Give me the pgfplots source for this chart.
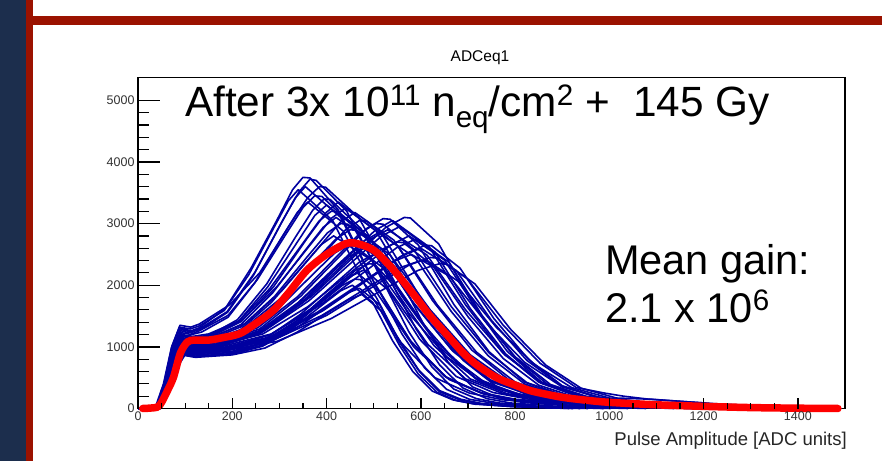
\documentclass[border=0pt]{standalone}
\usepackage{fontspec}
\setmainfont{Liberation Sans}
\usepackage{pgfplots}
\pgfplotsset{compat=1.18}

\definecolor{slidenavy}{HTML}{1C2E4D}
\definecolor{slidered}{HTML}{9B1200}
\definecolor{rootblue}{RGB}{0,0,160}
\definecolor{meanred}{RGB}{255,0,0}

\pgfplotsset{
  rootframe/.style={
    at={(138bp,52.5bp)}, anchor=south west, scale only axis,
    width=707bp, height=331bp,
    xmin=0, xmax=1500, ymin=0, ymax=5370,
    tick align=inside, clip=false,
    scaled ticks=false,
    /pgf/number format/assume math mode=true,
    /pgf/number format/1000 sep={},
    ticklabel style={font=\fontsize{12.5bp}{15bp}\selectfont, text=black!80},
    major tick style={line width=1.4bp, black},
    minor tick style={line width=1.2bp, black},
  },
  blu/.style={draw=rootblue, line width=1.6bp, line join=round},
}

\newcommand\up[2]{\raisebox{#1}{\fontsize{29.6bp}{30bp}\selectfont #2}}

\begin{document}
\begin{tikzpicture}
\useasboundingbox (0,0) rectangle (882bp,461bp);
\fill[white] (0,0) rectangle (882bp,461bp);
\fill[slidenavy] (0,0) rectangle (26bp,461bp);
\fill[slidered] (26bp,0) rectangle (33bp,461bp);
\fill[slidered] (33bp,436bp) rectangle (882bp,445bp);

\begin{axis}[rootframe,
  xtick=\empty, ytick={0,1000,...,5000}, minor y tick num=4, ytick pos=left,
  major tick length=22bp, minor tick length=11bp,
  axis line style={line width=1.6bp}]
% group A: early, high peaks
\addplot[blu] coordinates {(0,0)(38,0)(56,390)(73,975)(90,1300)(113,1260)(130,1310)(185,1620)(240,2280)(295,3060)(328,3550)(350,3750)(365,3740)(425,3220)(500,2060)(575,1120)(650,525)(725,260)(800,150)(950,60)(1175,0)};
\addplot[blu] coordinates {(0,0)(40,0)(58,380)(75,960)(92,1280)(115,1240)(130,1290)(189,1570)(248,2210)(306,3040)(342,3520)(365,3720)(378,3700)(443,3200)(520,2050)(598,1120)(675,520)(753,260)(830,150)(985,60)(1218,0)};
\addplot[blu] coordinates {(0,0)(36,0)(54,400)(71,990)(88,1320)(111,1290)(130,1340)(183,1590)(235,2170)(288,2930)(319,3370)(340,3550)(413,3050)(485,1950)(558,1070)(630,500)(703,250)(775,140)(920,50)(1138,0)};
\addplot[blu] coordinates {(0,0)(42,0)(60,380)(77,940)(94,1250)(117,1220)(130,1260)(191,1510)(253,2090)(314,2830)(351,3270)(375,3450)(390,3440)(455,2970)(535,1900)(615,1040)(695,480)(775,240)(855,140)(1015,50)(1255,0)};
\addplot[blu] coordinates {(0,0)(39,0)(57,370)(74,920)(91,1230)(114,1200)(135,1240)(191,1480)(248,2040)(304,2760)(338,3180)(360,3350)(435,2880)(510,1840)(585,1000)(660,470)(735,230)(810,130)(960,50)(1185,0)};
\addplot[blu] coordinates {(0,0)(37,0)(55,400)(72,1010)(89,1350)(112,1320)(130,1370)(194,1680)(258,2200)(321,2970)(360,3420)(385,3600)(398,3590)(468,3100)(550,1980)(633,1080)(715,500)(798,250)(880,140)(1045,50)(1293,0)};
\addplot[blu] coordinates {(0,0)(40,0)(58,380)(75,960)(92,1280)(115,1250)(135,1290)(190,1560)(245,2160)(300,2950)(333,3410)(355,3600)(430,3100)(505,1980)(580,1080)(655,500)(730,250)(805,140)(955,50)(1180,0)};
% group B: middle peaks
\addplot[blu] coordinates {(0,0)(40,0)(58,350)(75,860)(92,1150)(115,1120)(150,1160)(213,1410)(275,1970)(338,2700)(375,3130)(400,3300)(480,2840)(560,1820)(640,990)(720,460)(800,230)(880,130)(1040,50)(1280,0)};
\addplot[blu] coordinates {(0,0)(42,0)(60,350)(77,890)(94,1180)(117,1150)(150,1190)(215,1420)(280,1950)(345,2630)(384,3040)(410,3200)(425,3190)(495,2750)(580,1760)(665,960)(750,450)(835,220)(920,130)(1090,50)(1345,0)};
\addplot[blu] coordinates {(0,0)(38,0)(56,340)(73,840)(90,1120)(113,1090)(150,1130)(218,1360)(285,1870)(353,2550)(393,2940)(420,3100)(503,2670)(585,1700)(668,930)(750,430)(833,220)(915,120)(1080,50)(1328,0)};
\addplot[blu] coordinates {(0,0)(44,0)(62,330)(79,830)(96,1100)(119,1070)(150,1110)(220,1330)(290,1820)(360,2470)(402,2850)(430,3000)(445,2990)(518,2580)(605,1650)(693,900)(780,420)(868,210)(955,120)(1130,45)(1393,0)};
\addplot[blu] coordinates {(0,0)(41,0)(59,360)(76,900)(93,1200)(116,1170)(150,1210)(223,1450)(295,1980)(368,2680)(411,3090)(440,3250)(520,2800)(600,1790)(680,975)(760,455)(840,230)(920,130)(1080,50)(1320,0)};
\addplot[blu] coordinates {(0,0)(39,0)(57,320)(74,810)(91,1080)(114,1050)(150,1090)(225,1300)(300,1770)(375,2390)(420,2750)(450,2900)(465,2890)(535,2490)(620,1600)(705,870)(790,410)(875,200)(960,120)(1130,40)(1385,0)};
\addplot[blu] coordinates {(0,0)(43,0)(61,340)(78,850)(95,1130)(118,1100)(150,1140)(228,1380)(305,1910)(383,2610)(429,3020)(460,3180)(543,2730)(625,1750)(708,950)(790,445)(873,220)(955,130)(1120,50)(1368,0)};
\addplot[blu] coordinates {(0,0)(40,0)(58,320)(75,800)(92,1060)(115,1030)(150,1070)(216,1270)(283,1720)(349,2310)(389,2660)(415,2800)(495,2410)(575,1540)(655,840)(735,390)(815,200)(895,110)(1055,40)(1295,0)};
\addplot[blu] coordinates {(0,0)(41,0)(59,350)(76,880)(93,1170)(116,1140)(150,1180)(211,1440)(273,2020)(334,2780)(371,3220)(395,3400)(408,3390)(473,2920)(550,1870)(628,1020)(705,480)(783,240)(860,140)(1015,50)(1248,0)};
\addplot[blu] coordinates {(0,0)(42,0)(60,340)(77,860)(94,1140)(117,1110)(150,1150)(219,1410)(288,1980)(356,2730)(398,3170)(425,3350)(505,2880)(585,1840)(665,1000)(745,470)(825,230)(905,130)(1065,50)(1305,0)};
\addplot[blu] coordinates {(0,0)(43,0)(61,330)(78,820)(95,1090)(118,1060)(160,1100)(238,1330)(315,1840)(393,2500)(439,2890)(470,3050)(485,3040)(553,2620)(635,1680)(718,915)(800,430)(883,210)(965,120)(1130,50)(1378,0)};
\addplot[blu] coordinates {(0,0)(44,0)(62,320)(79,800)(96,1060)(119,1030)(160,1070)(231,1250)(303,1660)(374,2200)(417,2520)(445,2650)(458,2640)(520,2280)(595,1460)(670,800)(745,370)(820,190)(895,110)(1045,40)(1270,0)};
% group C: late, high peaks
\addplot[blu] coordinates {(0,0)(42,0)(60,320)(77,790)(94,1050)(117,1020)(170,1070)(258,1290)(345,1820)(433,2510)(485,2920)(520,3080)(535,3070)(595,2650)(670,1690)(745,920)(820,430)(895,220)(970,120)(1120,50)(1345,0)};
\addplot[blu] coordinates {(0,0)(45,0)(63,300)(80,750)(97,1000)(120,970)(170,1010)(263,1250)(355,1780)(448,2480)(503,2890)(540,3050)(618,2620)(695,1680)(773,915)(850,430)(928,210)(1005,120)(1160,50)(1393,0)};
\addplot[blu] coordinates {(0,0)(41,0)(59,320)(76,810)(93,1080)(116,1050)(170,1100)(254,1310)(338,1810)(421,2460)(472,2850)(505,3000)(520,2990)(585,2580)(665,1650)(745,900)(825,420)(905,210)(985,120)(1145,45)(1385,0)};
\addplot[blu] coordinates {(0,0)(44,0)(62,310)(79,770)(96,1020)(119,990)(170,1030)(266,1250)(363,1750)(459,2410)(517,2800)(555,2950)(630,2540)(705,1620)(780,885)(855,410)(930,210)(1005,120)(1155,40)(1380,0)};
\addplot[blu] coordinates {(0,0)(43,0)(61,300)(78,740)(95,990)(118,960)(170,1000)(260,1220)(350,1720)(440,2370)(494,2750)(530,2900)(613,2490)(695,1600)(778,870)(860,410)(943,200)(1025,120)(1190,40)(1438,0)};
\addplot[blu] coordinates {(0,0)(46,0)(64,310)(81,780)(98,1040)(121,1010)(170,1050)(269,1290)(368,1820)(466,2520)(526,2940)(565,3100)(578,3090)(638,2670)(710,1700)(783,930)(855,430)(928,220)(1000,120)(1145,50)(1363,0)};
\addplot[blu] coordinates {(0,0)(44,0)(62,310)(79,770)(96,1030)(119,1000)(170,1040)(255,1250)(340,1720)(425,2340)(476,2700)(510,2850)(588,2450)(665,1570)(743,855)(820,400)(898,200)(975,110)(1130,40)(1363,0)};
\addplot[blu] coordinates {(0,0)(45,0)(63,300)(80,760)(97,1010)(120,980)(170,1020)(265,1210)(360,1650)(455,2230)(512,2560)(550,2700)(563,2690)(625,2320)(700,1490)(775,810)(850,380)(925,190)(1000,110)(1150,40)(1375,0)};
\addplot[blu] coordinates {(0,0)(43,0)(61,300)(78,750)(95,1000)(118,970)(170,1010)(248,1190)(325,1610)(403,2150)(449,2470)(480,2600)(550,2240)(620,1430)(690,780)(760,360)(830,180)(900,100)(1040,40)(1250,0)};
% group D: low peaks, steep fall
\addplot[blu] coordinates {(0,0)(44,0)(62,270)(79,680)(96,900)(119,870)(200,910)(268,1030)(335,1300)(403,1660)(443,1870)(470,1950)(513,1680)(555,1070)(598,590)(640,270)(683,140)(725,80)(810,30)(938,0)};
\addplot[blu] coordinates {(0,0)(46,0)(64,260)(81,660)(98,880)(121,850)(200,890)(265,1030)(330,1340)(395,1760)(434,2000)(460,2100)(472,2090)(505,1810)(550,1160)(595,630)(640,290)(685,150)(730,80)(820,30)(955,0)};
\addplot[blu] coordinates {(0,0)(42,0)(60,290)(77,710)(94,950)(117,920)(200,960)(270,1110)(340,1440)(410,1890)(452,2150)(480,2250)(528,1940)(575,1240)(623,680)(670,315)(718,160)(765,90)(860,30)(1003,0)};
\addplot[blu] coordinates {(0,0)(45,0)(63,260)(80,650)(97,870)(120,840)(200,880)(264,1010)(328,1300)(391,1680)(430,1910)(455,2000)(498,1720)(540,1100)(583,600)(625,280)(668,140)(710,80)(795,30)(923,0)};
\addplot[blu] coordinates {(0,0)(43,0)(61,280)(78,690)(95,920)(118,890)(200,930)(273,1090)(345,1460)(418,1950)(461,2240)(490,2350)(502,2340)(540,2020)(590,1290)(640,705)(690,330)(740,160)(790,90)(890,35)(1040,0)};
\addplot[blu] coordinates {(0,0)(47,0)(65,260)(82,650)(99,860)(122,830)(200,870)(269,980)(338,1240)(406,1570)(448,1770)(475,1850)(515,1590)(555,1020)(595,555)(635,260)(675,130)(715,70)(795,30)(915,0)};
\addplot[blu] coordinates {(0,0)(45,0)(63,270)(80,680)(97,900)(120,870)(200,910)(266,1060)(333,1390)(399,1840)(439,2100)(465,2200)(513,1890)(560,1210)(608,660)(655,310)(703,150)(750,90)(845,30)(988,0)};
\addplot[blu] coordinates {(0,0)(44,0)(62,280)(79,700)(96,930)(119,900)(190,940)(268,1120)(345,1530)(423,2060)(469,2370)(500,2500)(512,2490)(553,2150)(605,1380)(658,750)(710,350)(763,180)(815,100)(920,40)(1078,0)};
% group E: late, broad peaks
\addplot[blu] coordinates {(0,0)(45,0)(63,290)(80,720)(97,960)(120,930)(180,970)(285,1160)(390,1580)(495,2140)(558,2470)(600,2600)(675,2240)(750,1430)(825,780)(900,360)(975,180)(1050,100)(1200,40)(1425,0)};
\addplot[blu] coordinates {(0,0)(47,0)(65,280)(82,710)(99,940)(122,910)(180,950)(290,1120)(400,1510)(510,2030)(576,2330)(620,2450)(635,2440)(698,2110)(775,1350)(853,735)(930,340)(990,250)(1030,200)(1085,150)(1240,70)(1473,0)};
\addplot[blu] coordinates {(0,0)(44,0)(62,300)(79,750)(96,1000)(119,970)(180,1010)(283,1210)(385,1670)(488,2260)(549,2610)(590,2750)(660,2370)(730,1510)(800,825)(870,385)(940,190)(1010,110)(1150,40)(1360,0)};
\addplot[blu] coordinates {(0,0)(46,0)(64,280)(81,690)(98,920)(121,890)(180,930)(295,1090)(410,1460)(525,1950)(594,2240)(640,2350)(655,2340)(715,2020)(790,1290)(865,705)(940,330)(1015,170)(1090,150)(1200,90)(1260,40)(1465,0)};
\addplot[blu] coordinates {(0,0)(48,0)(66,290)(83,740)(100,980)(123,950)(180,990)(280,1160)(380,1560)(480,2070)(540,2380)(580,2500)(660,2150)(740,1380)(820,750)(900,350)(980,180)(1060,100)(1220,40)(1460,0)};
\addplot[blu] coordinates {(0,0)(45,0)(63,290)(80,710)(97,950)(120,920)(180,960)(288,1150)(395,1600)(503,2170)(567,2510)(610,2650)(623,2640)(683,2280)(755,1460)(828,800)(900,370)(973,190)(1045,110)(1190,40)(1408,0)};
\addplot[blu] coordinates {(0,0)(46,0)(64,290)(81,730)(98,970)(121,940)(180,980)(279,1190)(378,1670)(476,2290)(536,2650)(575,2800)(650,2410)(725,1540)(800,840)(875,390)(950,200)(1025,110)(1175,40)(1400,0)};
\addplot[blu] coordinates {(0,0)(47,0)(65,290)(82,720)(99,960)(122,930)(180,970)(285,1130)(390,1510)(495,2000)(558,2290)(600,2400)(615,2390)(680,2060)(760,1320)(840,720)(920,340)(1000,170)(1080,100)(1240,40)(1480,0)};
% mean
\addplot[meanred, line width=7.5bp, smooth, line cap=round] coordinates {(10,0)(40,20)(50,100)(60,250)(75,500)(90,900)(105,1080)(120,1110)(150,1110)(180,1150)(216,1215)(250,1380)(287,1590)(320,1880)(358,2240)(400,2500)(443,2680)(470,2665)(500,2570)(525,2390)(550,2180)(590,1800)(620,1500)(655,1200)(690,900)(720,700)(761,500)(800,380)(832,290)(870,225)(902,180)(950,135)(1000,100)(1100,60)(1200,35)(1300,15)(1400,5)(1485,0)};
\end{axis}

\begin{axis}[rootframe,
  axis line style={draw=none}, ytick=\empty,
  xtick={0,200,...,1400}, minor x tick num=3, xtick pos=bottom,
  major tick length=10bp, minor tick length=5bp]
\end{axis}

\node[anchor=base, inner sep=0, font=\fontsize{15.5bp}{18bp}\selectfont] at (480bp,399bp) {ADCeq1};
\node[anchor=base east, inner sep=0, text=black!85, font=\fontsize{18.5bp}{22bp}\selectfont] at (847bp,16bp) {Pulse Amplitude [ADC units]};
\node[anchor=base west, inner sep=0, font=\fontsize{42.3bp}{50bp}\selectfont] at (185bp,344bp)
  {After 3x 10\up{11bp}{11} n\up{-11bp}{eq}/cm\up{11bp}{2} + \ 145 Gy};
\node[anchor=base west, inner sep=0, font=\fontsize{41.5bp}{50bp}\selectfont] at (605bp,186bp) {Mean gain:};
\node[anchor=base west, inner sep=0, font=\fontsize{41.5bp}{50bp}\selectfont] at (605bp,138bp) {2.1 x 10\up{12bp}{6}};
\end{tikzpicture}
\end{document}
